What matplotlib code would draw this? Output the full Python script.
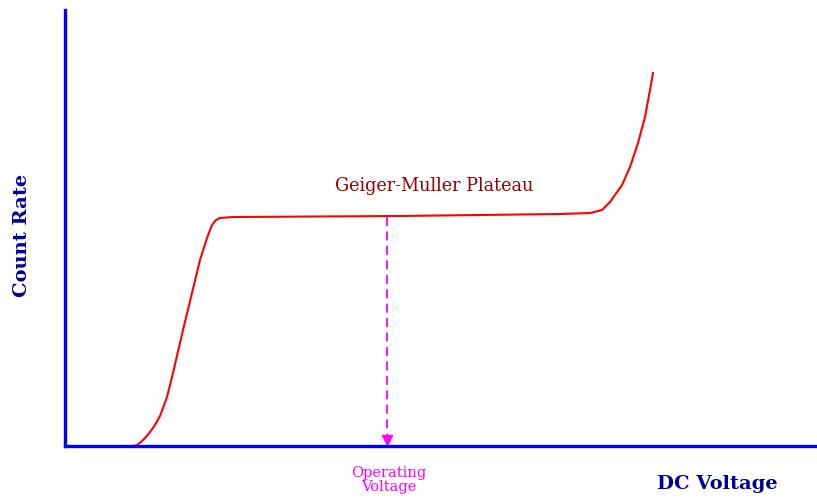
import numpy as np
import matplotlib
matplotlib.use("Agg")
import matplotlib.pyplot as plt

# curve (arbitrary units, origin at axes corner)
voltage = [60, 68, 72, 76, 80, 85, 90, 95, 102, 108, 118, 127, 135, 142, 147, 151, 155,
           168, 335, 495, 525, 537, 545, 557, 565, 573, 580, 585, 588]
count_rate = [0, 0, 1, 4, 8, 14, 21, 30, 49, 73, 116, 153, 186, 208, 221, 226, 228,
              229, 230, 232, 233, 236, 244, 261, 279, 303, 329, 356, 373]

operating_v = 322
plateau_label = "Geiger-Muller Plateau"
op_label = "Operating\nVoltage"

serif = ["DejaVu Serif"]

fig = plt.figure(figsize=(8.17, 5.0), dpi=100)
ax = fig.add_axes([65 / 817, 54 / 500, 752 / 817, 436 / 500])
ax.set_xlim(0, 752)
ax.set_ylim(0, 436)

ax.plot(voltage, count_rate, color="#ff0000", lw=1.5, solid_joinstyle="round")

# operating voltage marker
ax.plot([operating_v, operating_v], [229, 8], color="#ff00ff", lw=1.3,
        linestyle=(0, (5, 3)))
ax.plot([operating_v], [6], marker="v", color="#ff00ff", markersize=7,
        clip_on=False)

ax.text(270, 260, plateau_label, color="#990000", fontsize=12.7, family=serif,
        ha="left", va="center")

for side in ["top", "right"]:
    ax.spines[side].set_visible(False)
for side in ["left", "bottom"]:
    ax.spines[side].set_color("#0000ff")
    ax.spines[side].set_linewidth(2.4)
ax.set_xticks([])
ax.set_yticks([])

fig.text(389 / 817, 1 - 480 / 500, op_label, color="#ff00ff", fontsize=10.5,
         family=serif, ha="center", va="center", linespacing=1.0)
fig.text(717 / 817, 1 - 484 / 500, "DC Voltage", color="#000099", fontsize=14,
         family=serif, weight="bold", ha="center", va="center")
fig.text(22 / 817, 1 - 235 / 500, "Count Rate", color="#000099", fontsize=14,
         family=serif, weight="bold", ha="center", va="center", rotation=90)

fig.savefig("out.png", dpi=100, facecolor="white")
